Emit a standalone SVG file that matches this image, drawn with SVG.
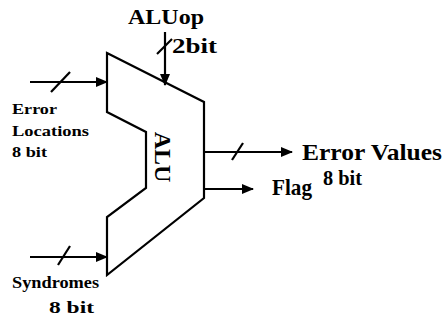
<svg xmlns="http://www.w3.org/2000/svg" width="443" height="320" viewBox="0 0 443 320">
<style>
.ln{stroke:#000;stroke-width:2.2;fill:none}
.t{font-family:"Liberation Serif","Times New Roman",serif;font-weight:bold;fill:#000}
</style>
<defs>
<marker id="ah" viewBox="0 0 12 10" refX="11" refY="5" markerWidth="5.5" markerHeight="4.6" orient="auto" markerUnits="strokeWidth">
<path d="M0,0 L12,5 L0,10 z" fill="#000"/>
</marker>
</defs>
<rect width="443" height="320" fill="#fff"/>
<g id="alu">
<polygon class="ln" points="107,53 204,102 204,198 107,275 107,217 146,188 146,132 107,112"/>
<text class="t" font-size="24" text-anchor="middle" transform="translate(155,157) rotate(90)">ALU</text>
</g>
<g id="aluop">
<text class="t" x="128" y="24" font-size="20" textLength="76" lengthAdjust="spacingAndGlyphs">ALUop</text>
<text class="t" x="172" y="53" font-size="20" textLength="45" lengthAdjust="spacingAndGlyphs">2bit</text>
</g>
<g id="errloc">
<text class="t" x="12" y="114" font-size="15" textLength="45" lengthAdjust="spacingAndGlyphs">Error</text>
<text class="t" x="12" y="136" font-size="15" textLength="77" lengthAdjust="spacingAndGlyphs">Locations</text>
<text class="t" x="12" y="157" font-size="15" textLength="35" lengthAdjust="spacingAndGlyphs">8 bit</text>
</g>
<g id="synd">
<text class="t" x="12" y="288" font-size="16" textLength="87" lengthAdjust="spacingAndGlyphs">Syndromes</text>
<text class="t" x="49" y="313" font-size="17" textLength="45" lengthAdjust="spacingAndGlyphs">8 bit</text>
</g>
<g id="errval">
<text class="t" x="302" y="160" font-size="24" textLength="140" lengthAdjust="spacingAndGlyphs">Error Values</text>
<text class="t" x="323" y="185" font-size="21" textLength="39" lengthAdjust="spacingAndGlyphs">8 bit</text>
</g>
<g id="flag">
<text class="t" x="272" y="195" font-size="23" textLength="40" lengthAdjust="spacingAndGlyphs">Flag</text>
</g>
<g id="connectors">
<line class="ln" x1="165" y1="32" x2="165" y2="85" marker-end="url(#ah)"/>
<line class="ln" x1="157" y1="54" x2="172" y2="39"/>
<line class="ln" x1="30" y1="82" x2="107" y2="82" marker-end="url(#ah)"/>
<line class="ln" x1="51" y1="92" x2="70" y2="72"/>
<line class="ln" x1="30" y1="257" x2="107" y2="257" marker-end="url(#ah)"/>
<line class="ln" x1="58" y1="265" x2="70" y2="246"/>
<line class="ln" x1="204" y1="152" x2="292" y2="152" marker-end="url(#ah)"/>
<line class="ln" x1="232" y1="160" x2="243" y2="143"/>
<line class="ln" x1="204" y1="189" x2="253" y2="189" marker-end="url(#ah)"/>
</g>
</svg>
